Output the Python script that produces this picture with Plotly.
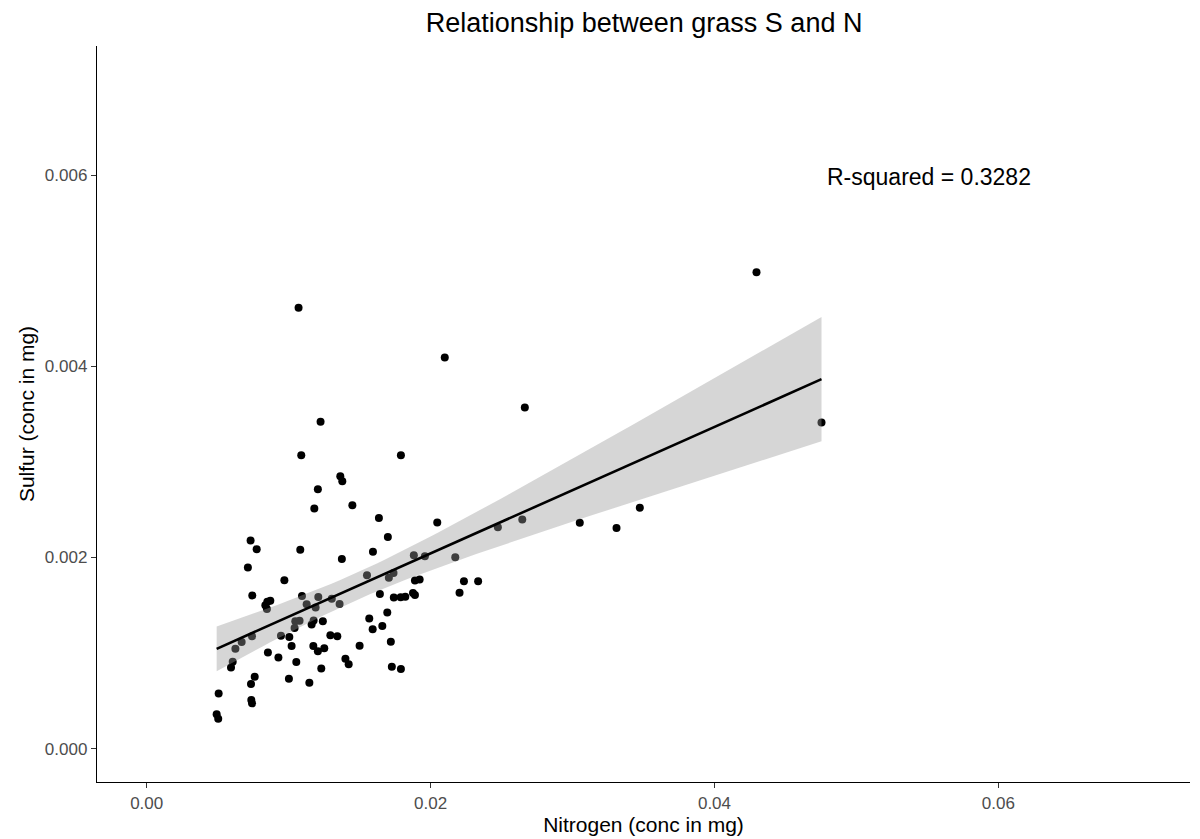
import numpy as np
import plotly.graph_objects as go

# Nitrogen (x) and Sulfur (y) concentrations
nitrogen = [
    0.01070, 0.04296, 0.02100, 0.02664, 0.01225, 0.04754, 0.01089, 0.01791,
    0.01364, 0.01378, 0.01206, 0.01181, 0.01449, 0.01636, 0.02047, 0.01699,
    0.00732, 0.00775, 0.01082, 0.01375, 0.01594, 0.00713, 0.00970, 0.01882,
    0.01960, 0.02174, 0.01552, 0.01706, 0.01739, 0.01890, 0.01923, 0.00871,
    0.00744, 0.00850, 0.00836, 0.00847, 0.01094, 0.01209, 0.01304, 0.01359,
    0.01127, 0.01190, 0.01643, 0.01741, 0.01789, 0.01822, 0.01876, 0.01890,
    0.02204, 0.01695, 0.01568, 0.01660, 0.01592, 0.01720, 0.01727, 0.01791,
    0.01500, 0.01400, 0.01423, 0.01230, 0.01146, 0.01002, 0.01054, 0.00928,
    0.00854, 0.01021, 0.01005, 0.00946, 0.01077, 0.01042, 0.01047, 0.01162,
    0.01176, 0.01241, 0.01343, 0.01294, 0.01174, 0.01206, 0.01251, 0.00742,
    0.00669, 0.00625, 0.00606, 0.00594, 0.00761, 0.00735, 0.00507, 0.00737,
    0.00742, 0.00493, 0.00504, 0.02474, 0.02646, 0.03051, 0.03310, 0.03474,
    0.02235, 0.02335,
]
sulfur = [
    0.004612, 0.004983, 0.004090, 0.003568, 0.003419, 0.003412, 0.003069, 0.003069,
    0.002848, 0.002796, 0.002713, 0.002512, 0.002546, 0.002412, 0.002364, 0.002212,
    0.002177, 0.002086, 0.002079, 0.001982, 0.002058, 0.001894, 0.001761, 0.002021,
    0.002011, 0.002001, 0.001812, 0.001788, 0.001836, 0.001759, 0.001769, 0.001545,
    0.001601, 0.001536, 0.001498, 0.001461, 0.001597, 0.001585, 0.001567, 0.001511,
    0.001510, 0.001476, 0.001617, 0.001581, 0.001584, 0.001589, 0.001627, 0.001606,
    0.001630, 0.001423, 0.001360, 0.001283, 0.001249, 0.001117, 0.000856, 0.000833,
    0.001075, 0.000939, 0.000883, 0.000838, 0.000689, 0.000731, 0.000905, 0.000953,
    0.001005, 0.001072, 0.001168, 0.001179, 0.001337, 0.001260, 0.001332, 0.001299,
    0.001340, 0.001333, 0.001176, 0.001186, 0.001072, 0.001019, 0.001048, 0.001176,
    0.001114, 0.001045, 0.000907, 0.000847, 0.000751, 0.000675, 0.000577, 0.000508,
    0.000473, 0.000358, 0.000313, 0.002316, 0.002396, 0.002361, 0.002308, 0.002520,
    0.001749, 0.001749,
]

x_ticks = [0.00, 0.02, 0.04, 0.06]
x_tick_labels = ["0.00", "0.02", "0.04", "0.06"]
y_ticks = [0.000, 0.002, 0.004, 0.006]
y_tick_labels = ["0.000", "0.002", "0.004", "0.006"]

title_text = "Relationship between grass S and N"
x_title = "Nitrogen (conc in mg)"
y_title = "Sulfur (conc in mg)"
r2_label = "R-squared = 0.3282"

FONT = "Liberation Sans, Arial, sans-serif"

# Linear fit with 95% confidence band (like geom_smooth(method = "lm"))
x = np.array(nitrogen)
y = np.array(sulfur)
n = len(x)
slope, intercept = np.polyfit(x, y, 1)
resid = y - (slope * x + intercept)
s = np.sqrt(np.sum(resid ** 2) / (n - 2))
xbar = x.mean()
sxx = np.sum((x - xbar) ** 2)
t_crit = 1.985
xs = np.linspace(x.min(), x.max(), 80)
fit = slope * xs + intercept
se = s * np.sqrt(1.0 / n + (xs - xbar) ** 2 / sxx)
upper = fit + t_crit * se
lower = fit - t_crit * se

fig = go.Figure()
fig.add_trace(go.Scatter(
    x=nitrogen, y=sulfur, mode="markers",
    marker=dict(color="black", size=8, line=dict(width=0)),
    showlegend=False, hoverinfo="x+y",
))
fig.add_trace(go.Scatter(
    x=np.concatenate([xs, xs[::-1]]), y=np.concatenate([upper, lower[::-1]]),
    mode="lines", fill="toself", fillcolor="rgba(153,153,153,0.4)",
    line=dict(width=0, color="rgba(0,0,0,0)"), showlegend=False, hoverinfo="skip",
))
fig.add_trace(go.Scatter(
    x=xs, y=fit, mode="lines", line=dict(color="black", width=2.6),
    showlegend=False, hoverinfo="skip",
))

fig.add_annotation(
    x=0.0551, y=0.00598, text=r2_label, showarrow=False,
    font=dict(family=FONT, size=23, color="black"),
)

axis_common = dict(
    showgrid=False, zeroline=False, showline=True, linecolor="black", linewidth=1.4,
    ticks="outside", ticklen=5, tickwidth=1.2, tickcolor="#333333",
    tickfont=dict(family=FONT, size=17, color="#4d4d4d"),
    title_font=dict(family=FONT, size=21, color="black"),
)

fig.update_layout(
    width=1200, height=839,
    margin=dict(l=97, r=10, t=46, b=55),
    paper_bgcolor="white", plot_bgcolor="white",
    title=dict(text=title_text, x=0.5367, xanchor="center", y=0.973, yanchor="middle",
               font=dict(family=FONT, size=27, color="black")),
    xaxis=dict(range=[-0.0035, 0.0735], tickvals=x_ticks, ticktext=x_tick_labels,
               title=dict(text=x_title, standoff=2), **axis_common),
    yaxis=dict(range=[-0.00035, 0.00735], tickvals=y_ticks, ticktext=y_tick_labels,
               title=dict(text=y_title, standoff=4), **axis_common),
)

fig.write_html("out.html")
